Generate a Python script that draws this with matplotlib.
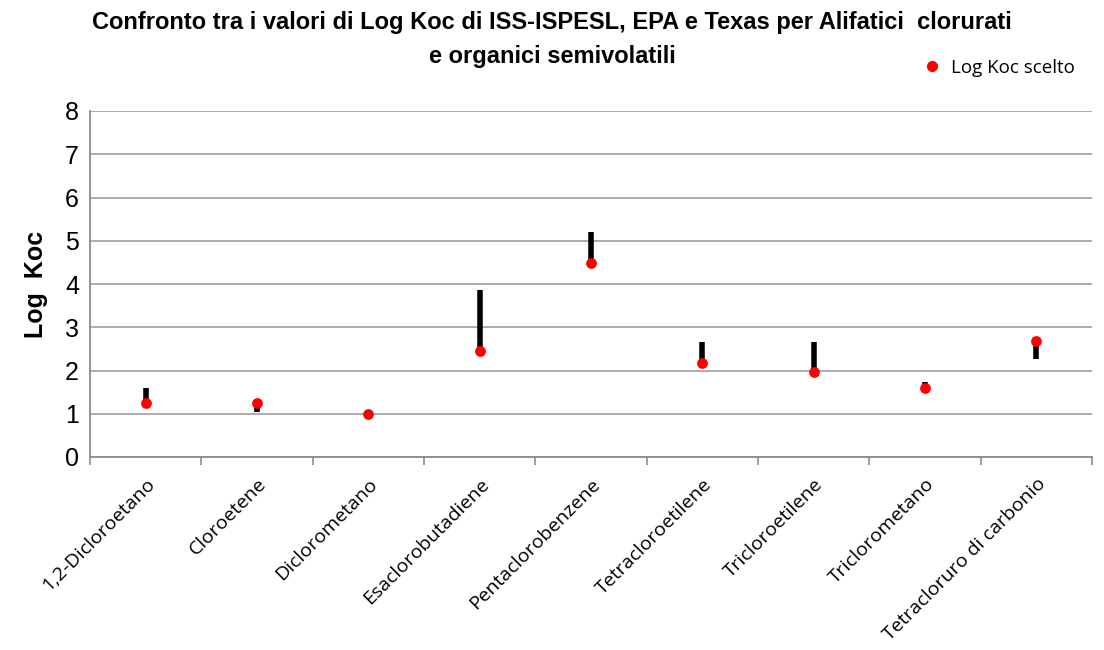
import numpy as np
import matplotlib
matplotlib.use('Agg')
import matplotlib.pyplot as plt
from matplotlib.lines import Line2D

plt.rcParams['font.family'] = ['Liberation Sans', 'DejaVu Sans']

# ── Data ────────────────────────────────────────────────────────────────────
compounds = ["1,2-Dicloroetano", "Cloroetene", "Diclorometano", "Esaclorobutadiene",
             "Pentaclorobenzene", "Tetracloroetilene", "Tricloroetilene",
             "Triclorometano", "Tetracloruro di carbonio"]
koc_low = [1.22, 1.04, 0.99, 2.46, 4.49, 2.18, 1.97, 1.59, 2.27]
koc_high = [1.59, 1.26, 0.99, 3.87, 5.21, 2.66, 2.66, 1.73, 2.68]
koc_chosen = [1.24, 1.26, 0.99, 2.46, 4.49, 2.18, 1.97, 1.59, 2.68]

title_lines = ["Confronto tra i valori di Log Koc di ISS-ISPESL, EPA e Texas per Alifatici  clorurati",
               "e organici semivolatili"]

# ── Figure ──────────────────────────────────────────────────────────────────
fig = plt.figure(figsize=(11.04, 6.5), dpi=100)
ax = fig.add_axes([90 / 1104, 1 - 457 / 650, 1002 / 1104, 346 / 650])

x = np.arange(len(compounds))
ax.vlines(x, koc_low, koc_high, colors='black', linewidth=4, zorder=3)
ax.scatter(x, koc_chosen, s=60, color='#ff0000', zorder=4, linewidths=0)

ax.set_xlim(-0.5, len(compounds) - 0.5)
ax.set_ylim(0, 8)
ax.set_yticks(range(0, 9))
ax.tick_params(axis='y', labelsize=18, length=0, pad=8)

# category labels at centres, tick marks at boundaries
ax.set_xticks(x)
ax.set_xticklabels(compounds, rotation=45, ha='right', rotation_mode='anchor',
                   fontsize=14, family=['Open Sans', 'DejaVu Sans'])
ax.tick_params(axis='x', which='major', length=0, pad=13)
ax.set_xticks(np.arange(-0.5, len(compounds)), minor=True)
ax.tick_params(axis='x', which='minor', length=6, width=1.2, color='#8c8c8c', direction='out')

ax.grid(axis='y', color='#a6a6a6', linewidth=1.3)
ax.set_axisbelow(True)
for side in ['top', 'right']:
    ax.spines[side].set_visible(False)
for side in ['left', 'bottom']:
    ax.spines[side].set_color('#8c8c8c')
    ax.spines[side].set_linewidth(1.3)

ax.set_ylabel("Log  Koc", fontsize=18, fontweight='bold', labelpad=12)

fig.text(0.5, 1 - 22 / 650, title_lines[0], ha='center', va='center', fontsize=17,
         fontweight='bold')
fig.text(0.5, 1 - 57 / 650, title_lines[1], ha='center', va='center', fontsize=17,
         fontweight='bold')

handle = Line2D([], [], marker='o', color='#ff0000', linestyle='none', markersize=7)
fig.legend([handle], ["Log Koc scelto"], loc='center left',
           bbox_to_anchor=(906 / 1104, 1 - 68 / 650), frameon=False,
           handletextpad=0.0, borderaxespad=0,
           prop={'family': ['Open Sans', 'DejaVu Sans'], 'size': 13.5})

fig.savefig("out.png", dpi=100)
